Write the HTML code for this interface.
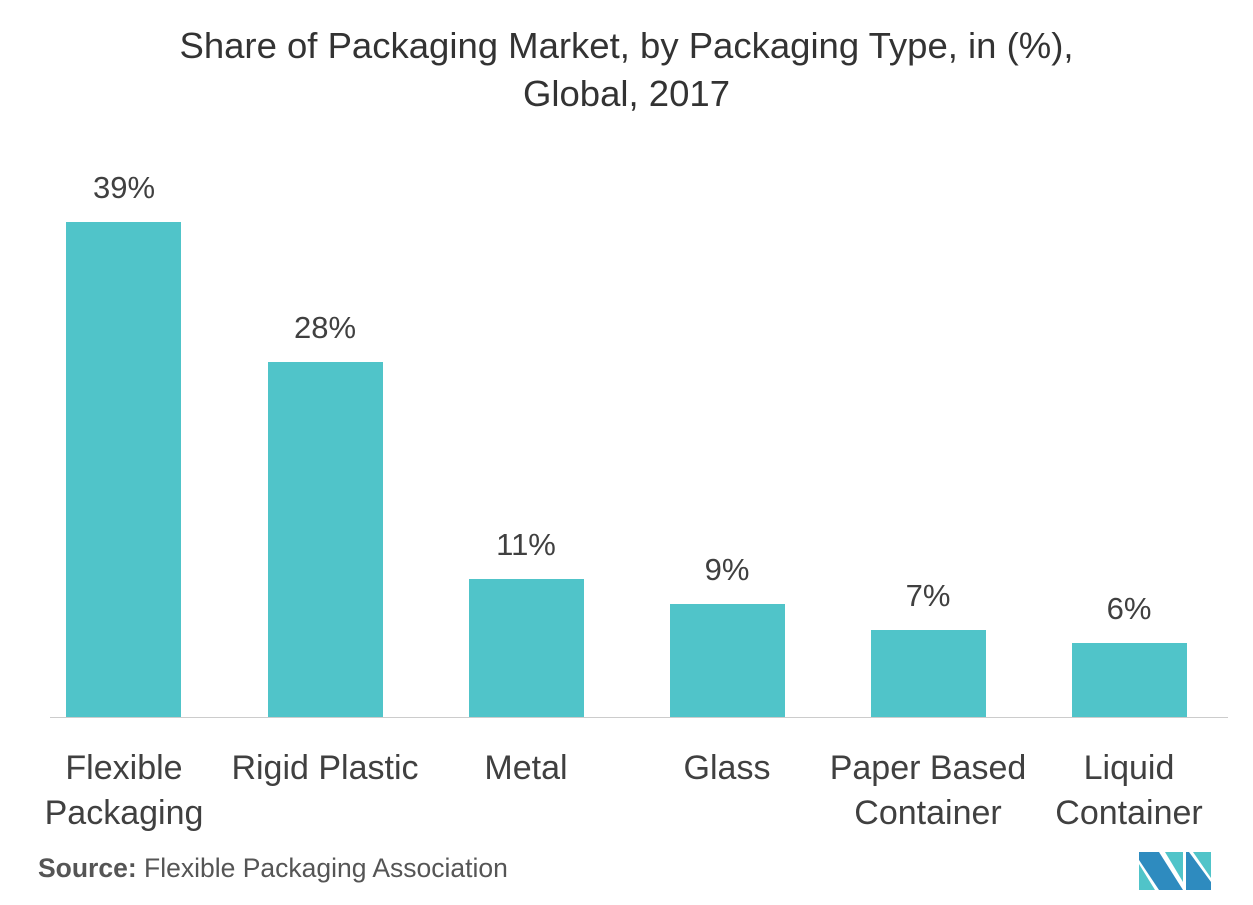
<!DOCTYPE html>
<html><head><style>
body{margin:0;width:1253px;height:905px;background:#fff;font-family:"Liberation Sans",sans-serif;position:relative;overflow:hidden;color:#404040}
.t{position:absolute;width:1253px;text-align:center;font-size:36.5px;color:#333;line-height:48px}
.bar{position:absolute;background:#50c4c9;width:115px}
.v{position:absolute;width:160px;text-align:center;font-size:31px;color:#404040}
.l{position:absolute;width:230px;text-align:center;font-size:34px;line-height:45px;color:#404040}
</style></head><body>
<div class="t" style="top:22px">Share of Packaging Market, by Packaging Type, in (%),<br>Global, 2017</div>
<div class="bar" style="left:66px;top:222px;height:496px"></div>
<div class="bar" style="left:268px;top:362px;height:356px"></div>
<div class="bar" style="left:469px;top:579px;height:139px"></div>
<div class="bar" style="left:670px;top:604px;height:114px"></div>
<div class="bar" style="left:871px;top:630px;height:88px"></div>
<div class="bar" style="left:1072px;top:643px;height:75px"></div>
<div style="position:absolute;left:50px;top:717px;width:1178px;height:1px;background:#ccc"></div>
<div class="v" style="left:44px;top:170px">39%</div>
<div class="v" style="left:245px;top:310px">28%</div>
<div class="v" style="left:446px;top:527px">11%</div>
<div class="v" style="left:647px;top:552px">9%</div>
<div class="v" style="left:848px;top:578px">7%</div>
<div class="v" style="left:1049px;top:591px">6%</div>
<div class="l" style="left:9px;top:746px">Flexible<br>Packaging</div>
<div class="l" style="left:210px;top:746px">Rigid Plastic</div>
<div class="l" style="left:411px;top:746px">Metal</div>
<div class="l" style="left:612px;top:746px">Glass</div>
<div class="l" style="left:813px;top:746px">Paper Based<br>Container</div>
<div class="l" style="left:1014px;top:746px">Liquid<br>Container</div>
<div style="position:absolute;left:38px;top:853px;font-size:26.5px;color:#555"><b>Source:</b> Flexible Packaging Association</div>
<svg style="position:absolute;left:1139px;top:852px" width="72" height="38" viewBox="0 0 72 38">
<polygon points="0,0 20,0 44,38 20,38 0,8" fill="#2e8bbf"/>
<polygon points="0,12 16,38 0,38" fill="#50c4c9"/>
<polygon points="26,0 44,0 44,30" fill="#50c4c9"/>
<polygon points="47,0 50,0 72,30 72,38 47,38" fill="#2e8bbf"/>
<polygon points="54,0 72,0 72,26" fill="#50c4c9"/>
</svg>
</body></html>
